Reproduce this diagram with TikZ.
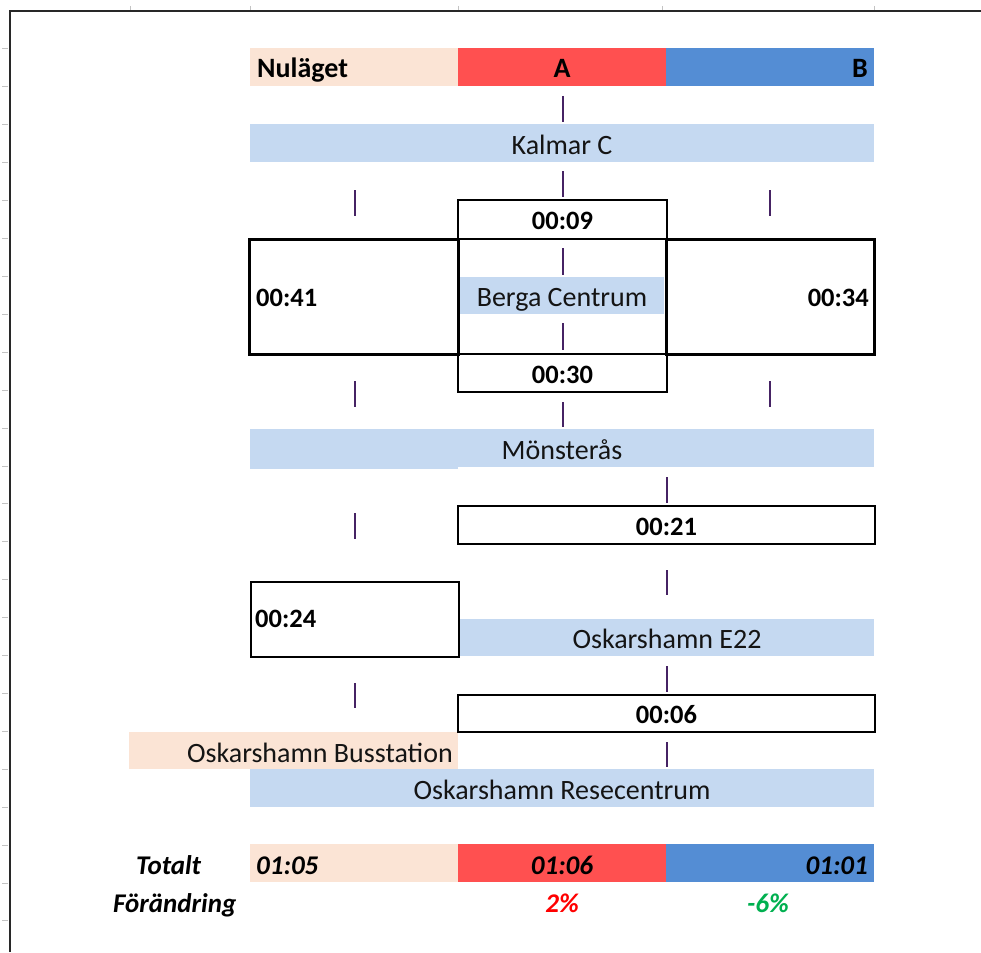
\documentclass[tikz,border=0pt]{standalone}
\usepackage{fontspec}
\setmainfont{Carlito}
\definecolor{peach}{RGB}{251,228,213}
\definecolor{redA}{RGB}{255,80,80}
\definecolor{blueB}{RGB}{84,141,212}
\definecolor{lblue}{RGB}{197,217,241}
\definecolor{tickc}{RGB}{70,35,100}
\definecolor{framec}{RGB}{40,40,40}
\definecolor{gridc}{RGB}{195,195,195}
\definecolor{grn}{RGB}{0,176,80}
\definecolor{txt}{RGB}{20,20,20}
\begin{document}
\begin{tikzpicture}[x=1pt,y=-1pt,
  cellbox/.style={anchor=north west, inner sep=0pt, outer sep=0pt},
  thinbox/.style={cellbox, draw=black, line width=1.6pt},
  thickbox/.style={cellbox, draw=black, line width=3pt},
  lbl/.style={inner sep=0pt, text=txt, font=\fontsize{28}{34}\selectfont},
  hdr/.style={inner sep=0pt, text=black, font=\fontsize{28}{34}\selectfont\bfseries},
  tm/.style={inner sep=0pt, text=black, font=\fontsize{26.5}{32}\selectfont\bfseries},
  tot/.style={inner sep=0pt, text=black, font=\fontsize{27}{32}\selectfont\bfseries\itshape},
  tickline/.style={draw=tickc, line width=2.2pt},
  gridtick/.style={draw=gridc, line width=1pt}]
\useasboundingbox (0,0) rectangle (981,952);
\fill[white] (0,0) rectangle (981,952);

% sheet frame and grid ticks
\foreach \k in {0,...,23} \draw[gridtick] (2,{49+\k*37.91}) -- (8,{49+\k*37.91});
\foreach \xx in {130,250,458,662,874} \draw[gridtick] (\xx,6) -- (\xx,10);
\draw[framec, line width=2pt] (9.5,952) -- (9.5,11.5) -- (981,11.5);

% header row
\node[cellbox, fill=peach, minimum width=208pt, minimum height=38pt] (nul) at (250,48) {};
\node[cellbox, fill=redA, minimum width=208pt, minimum height=38pt] (ahd) at (458,48) {};
\node[cellbox, fill=blueB, minimum width=208pt, minimum height=38pt] (bhd) at (666,48) {};

% station bars
\node[cellbox, fill=lblue, minimum width=624pt, minimum height=38pt] (kalmar) at (250,124) {};
\node[cellbox, fill=lblue, minimum width=206pt, minimum height=37pt] (berga) at (458,277) {};
\node[cellbox, fill=lblue, minimum width=208pt, minimum height=40pt] (monsL) at (250,429) {};
\node[cellbox, fill=lblue, minimum width=416pt, minimum height=38pt] (mons) at (458,429) {};
\node[cellbox, fill=lblue, minimum width=415pt, minimum height=37pt] (e22) at (459,619) {};
\node[cellbox, fill=peach, minimum width=329pt, minimum height=37pt] (buss) at (129,732) {};
\node[cellbox, fill=lblue, minimum width=624pt, minimum height=38pt] (rese) at (250,769) {};

% totals row
\node[cellbox, fill=peach, minimum width=208pt, minimum height=38pt] (totN) at (250,844) {};
\node[cellbox, fill=redA, minimum width=208pt, minimum height=38pt] (totA) at (458,844) {};
\node[cellbox, fill=blueB, minimum width=208pt, minimum height=38pt] (totB) at (666,844) {};

% time boxes
\node[thinbox, minimum width=209pt, minimum height=39pt] (t09) at (458,200) {};
\node[thinbox, minimum width=209pt, minimum height=38pt] (t30) at (458,354) {};
\node[thinbox, minimum width=417pt, minimum height=38pt] (t21) at (458,506) {};
\node[thinbox, minimum width=208pt, minimum height=75pt] (t24) at (251,582) {};
\node[thinbox, minimum width=417pt, minimum height=37pt] (t06) at (458,695) {};
\node[thickbox, minimum width=209pt, minimum height=115pt] (t41) at (249,239) {};
\node[thickbox, minimum width=208pt, minimum height=115pt] (t34) at (666,239) {};

% tick marks
\foreach \xx/\ya/\yb in {563/96/122, 563/171/197, 355/190/216, 770/190/216,
  563/248/275, 563/323/350, 355/381/407, 770/381/407, 563/402/427,
  667/477/503, 355/513/539, 667/570/595, 667/666/692, 355/683/708, 667/742/767}
  \draw[tickline] (\xx,\ya) -- (\xx,\yb);

% texts
\node[hdr, anchor=base west] (nulT) at (257,78) {Nuläget};
\node[hdr, anchor=base] (aT) at (562,78) {A};
\node[hdr, anchor=base east] (bT) at (868,78) {B};
\node[lbl, anchor=base] (kalmarT) at (562,154) {Kalmar C};
\node[tm, anchor=base] (t09T) at (562.5,229) {00:09};
\node[tm, anchor=base west] (t41T) at (256,306) {00:41};
\node[lbl, anchor=base] (bergaT) at (562,306) {Berga Centrum};
\node[tm, anchor=base east] (t34T) at (869,306) {00:34};
\node[tm, anchor=base] (t30T) at (562.5,383) {00:30};
\node[lbl, anchor=base] (monsT) at (562,459) {Mönsterås};
\node[tm, anchor=base] (t21T) at (666.5,535) {00:21};
\node[tm, anchor=base west] (t24T) at (255,627) {00:24};
\node[lbl, anchor=base] (e22T) at (667,648) {Oskarshamn E22};
\node[tm, anchor=base] (t06T) at (666.5,723) {00:06};
\node[lbl, anchor=base east] (bussT) at (453,762) {Oskarshamn Busstation};
\node[lbl, anchor=base] (reseT) at (562,799) {Oskarshamn Resecentrum};
\node[tot, anchor=base west] (totalt) at (136,874) {Totalt};
\node[tot, anchor=base west] (forandr) at (113,912) {Förändring};
\node[tot, anchor=base west] (v105) at (256,874) {01:05};
\node[tot, anchor=base] (v106) at (562,874) {01:06};
\node[tot, anchor=base east] (v101) at (868,874) {01:01};
\node[tot, anchor=base, text=red] (pA) at (562,912) {2\%};
\node[tot, anchor=base, text=grn] (pB) at (768,912) {-6\%};
\end{tikzpicture}
\end{document}
